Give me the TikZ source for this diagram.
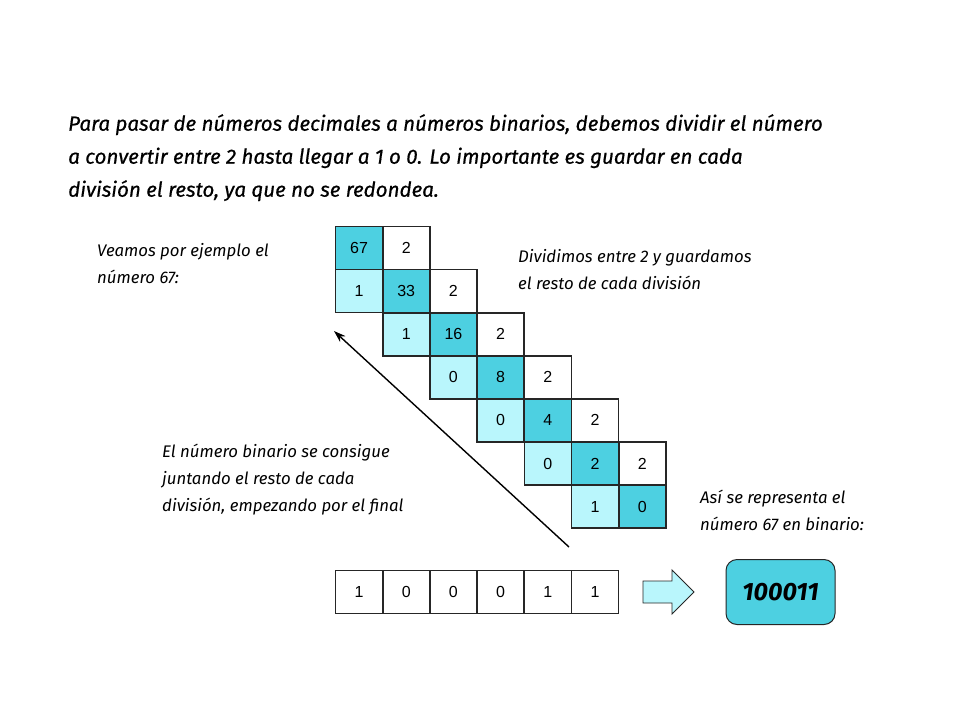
\documentclass[tikz,border=0pt]{standalone}
\usepackage{fontspec}
\setmainfont{Fira Sans}
\newfontfamily\hand{Fira Sans}
\newfontfamily\handb{Fira Sans}[FakeBold=0.6]
\newfontfamily\arialf{Liberation Sans}
\usetikzlibrary{arrows.meta}
\definecolor{darkcy}{HTML}{4DD0E1}
\definecolor{lightcy}{HTML}{B9F6FC}
\tikzset{
  cell/.style={draw=black!85, line width=1.6pt, minimum width=47pt, minimum height=43pt, inner sep=0pt, font=\arialf\fontsize{16}{18}\selectfont},
  darkcell/.style={cell, fill=darkcy},
  lightcell/.style={cell, fill=lightcy},
  whitecell/.style={cell, fill=white},
  headtext/.style={anchor=north west, align=left, inner sep=0pt, font=\handb\itshape\fontsize{20.6}{33}\selectfont},
  bodytext/.style={anchor=north west, align=left, inner sep=0pt, font=\hand\itshape\fontsize{16.8}{27}\selectfont},
}
\begin{document}
\begin{tikzpicture}[x=1pt,y=-1pt]
\useasboundingbox (0,0) rectangle (960,720);
% header
\node[headtext] (head) at (68,114) {Para pasar de números decimales a números binarios, debemos dividir el número\\a convertir entre 2 hasta llegar a 1 o 0. Lo importante es guardar en cada\\división el resto, ya que no se redondea.};
\node[bodytext] (ej) at (97,243) {Veamos por ejemplo el\\número 67:};
\node[bodytext] (div) at (518,249) {Dividimos entre 2 y guardamos\\el resto de cada división};
\node[bodytext] (bin) at (162,444) {El número binario se consigue\\juntando el resto de cada\\división, empezando por el final};
\node[bodytext] (asi) at (700,490) {Así se representa el\\número 67 en binario:};
% division cells
\def\cx#1{359+47.2*#1}
\def\cy#1{248+43.1*#1}
\node[darkcell] (c00) at ({\cx{0}},{\cy{0}}) {67};
\node[whitecell] (c01) at ({\cx{1}},{\cy{0}}) {2};
\node[lightcell] (c10) at ({\cx{0}},{\cy{1}}) {1};
\node[darkcell] (c11) at ({\cx{1}},{\cy{1}}) {33};
\node[whitecell] (c12) at ({\cx{2}},{\cy{1}}) {2};
\node[lightcell] (c21) at ({\cx{1}},{\cy{2}}) {1};
\node[darkcell] (c22) at ({\cx{2}},{\cy{2}}) {16};
\node[whitecell] (c23) at ({\cx{3}},{\cy{2}}) {2};
\node[lightcell] (c32) at ({\cx{2}},{\cy{3}}) {0};
\node[darkcell] (c33) at ({\cx{3}},{\cy{3}}) {8};
\node[whitecell] (c34) at ({\cx{4}},{\cy{3}}) {2};
\node[lightcell] (c43) at ({\cx{3}},{\cy{4}}) {0};
\node[darkcell] (c44) at ({\cx{4}},{\cy{4}}) {4};
\node[whitecell] (c45) at ({\cx{5}},{\cy{4}}) {2};
\node[lightcell] (c54) at ({\cx{4}},{\cy{5}}) {0};
\node[darkcell] (c55) at ({\cx{5}},{\cy{5}}) {2};
\node[whitecell] (c56) at ({\cx{6}},{\cy{5}}) {2};
\node[lightcell] (c65) at ({\cx{5}},{\cy{6}}) {1};
\node[darkcell] (c66) at ({\cx{6}},{\cy{6}}) {0};
% result row
\node[whitecell] (r1) at ({\cx{0}},592) {1};
\node[whitecell] (r2) at ({\cx{1}},592) {0};
\node[whitecell] (r3) at ({\cx{2}},592) {0};
\node[whitecell] (r4) at ({\cx{3}},592) {0};
\node[whitecell] (r5) at ({\cx{4}},592) {1};
\node[whitecell] (r6) at ({\cx{5}},592) {1};
% long arrow
\coordinate (aS) at (569,547);
\coordinate (aE) at (334,331);
\draw[line width=1.4pt, -{Stealth[length=12pt,width=8pt]}] (aS) -- (aE);
% block arrow
\draw[draw=black!85, line width=0.9pt, fill=lightcy, line join=miter]
  (643,581) -- (672,581) -- (672,570) -- (694,592) -- (672,614) -- (672,603) -- (643,603) -- cycle;
% result box
\node[draw=black!85, line width=1pt, fill=darkcy, rounded corners=11pt, minimum width=109pt, minimum height=65pt, inner sep=0pt, font=\hand\bfseries\itshape\fontsize{25}{28}\selectfont] (res) at (780.5,592) {100011};
\end{tikzpicture}
\end{document}
